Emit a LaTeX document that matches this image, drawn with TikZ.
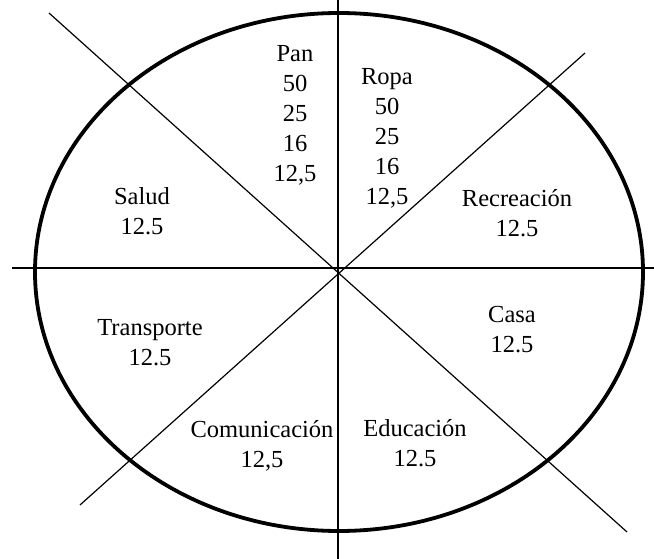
\documentclass[tikz,border=0pt]{standalone}
\usepackage{fontspec}
\setmainfont{Liberation Serif}
\begin{document}
\begin{tikzpicture}[x=1pt,y=-1pt,
  rim/.style={line width=3.8pt},
  axis/.style={line width=1.2pt},
  lbl/.style={align=center,inner sep=0pt,font=\fontsize{24.5}{30}\selectfont}]
\useasboundingbox (0,0) rectangle (654,559);
% center and line end points
\coordinate (O) at (338,269);
\coordinate (vt) at (338,0);
\coordinate (vb) at (338,559);
\coordinate (hl) at (12,268);
\coordinate (hr) at (654,268);
\coordinate (d1a) at (49,13);
\coordinate (d1b) at (627,532);
\coordinate (d2a) at (585,53);
\coordinate (d2b) at (80,505);
% ellipse
\draw[rim] (339,272) ellipse [x radius=304, y radius=259];
% lines
\draw[axis] (vt) -- (vb);
\draw[axis] (hl) -- (hr);
\draw[axis] (d1a) -- (d1b);
\draw[axis] (d2a) -- (d2b);
% labels
\node[lbl] (pan) at (295,115) {Pan\\50\\25\\16\\12,5};
\node[lbl] (ropa) at (387,138) {Ropa\\50\\25\\16\\12,5};
\node[lbl] (salud) at (142,211) {Salud\\12.5};
\node[lbl] (recr) at (517,213) {Recreación\\12.5};
\node[lbl] (transp) at (150,343) {Transporte\\12.5};
\node[lbl] (casa) at (512,330) {Casa\\12.5};
\node[lbl] (comun) at (262,446) {Comunicación\\12,5};
\node[lbl] (educ) at (415,443) {Educación\\12.5};
\end{tikzpicture}
\end{document}
